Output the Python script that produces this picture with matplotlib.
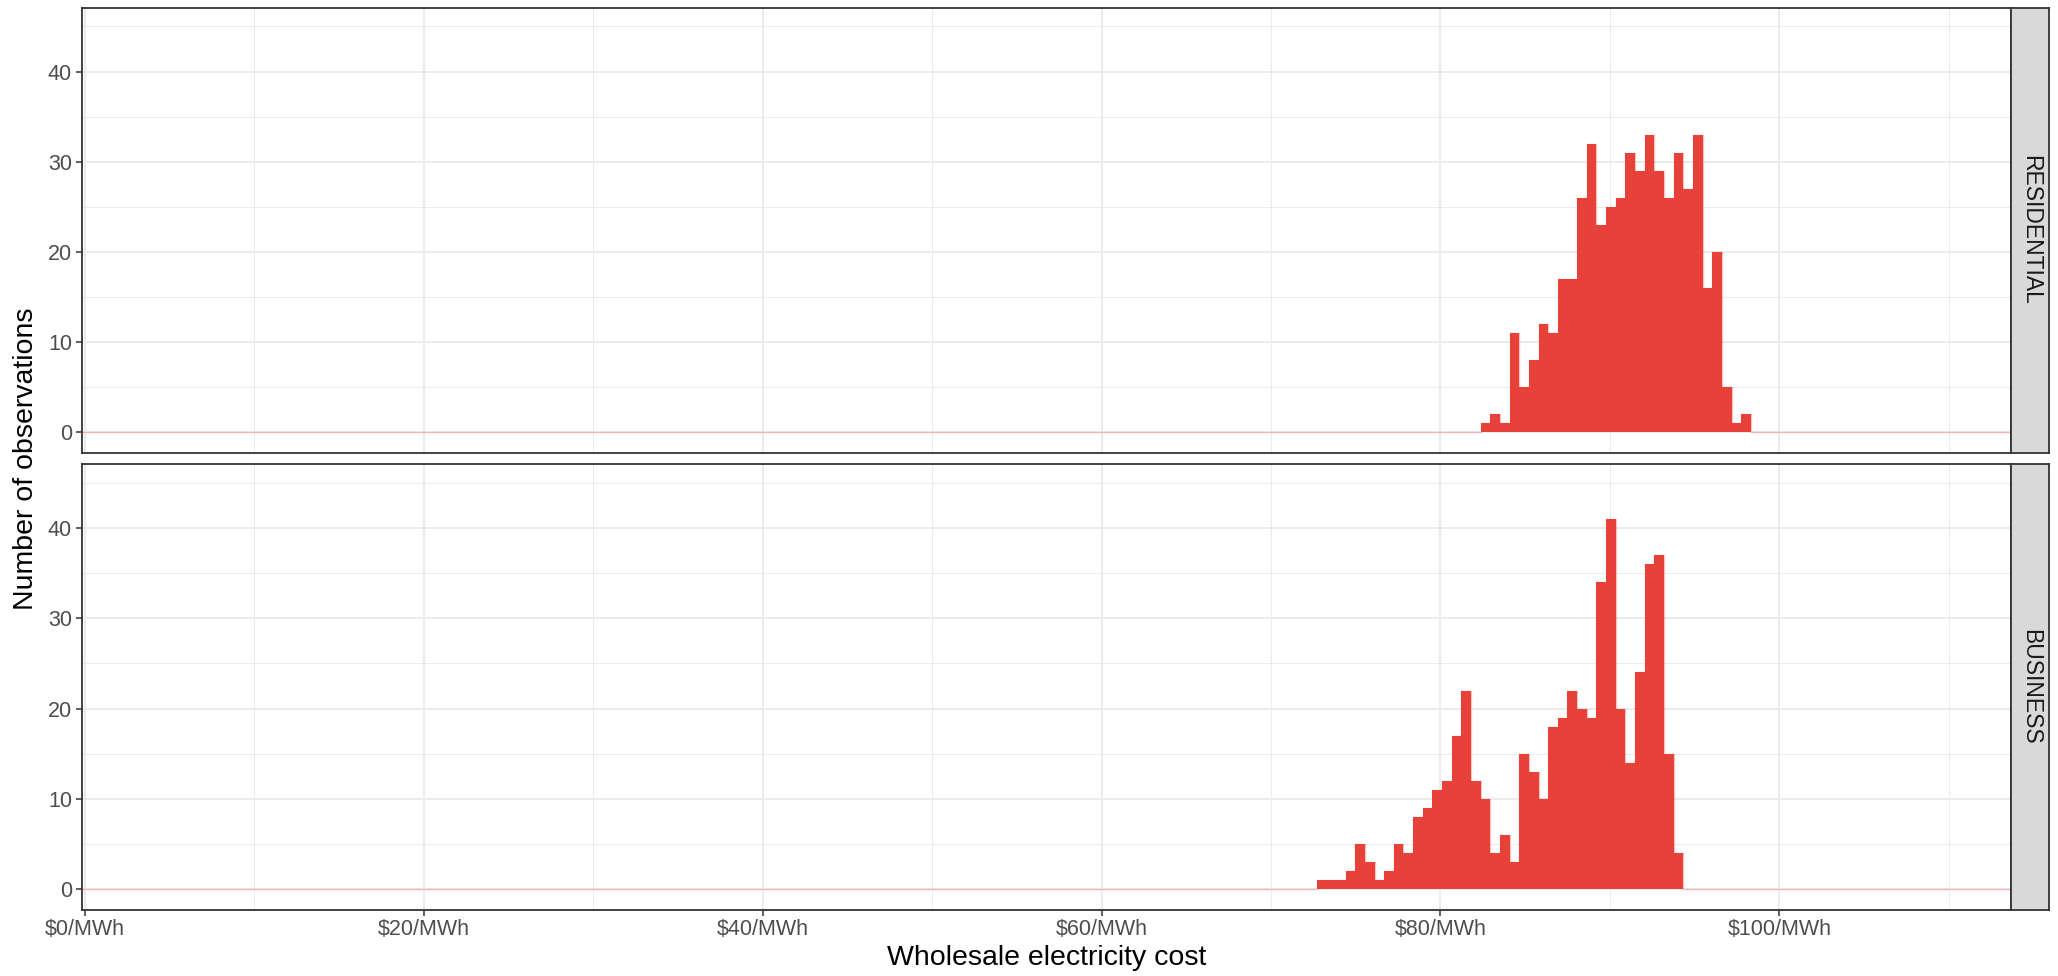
import numpy as np
import matplotlib
matplotlib.use("Agg")
import matplotlib.pyplot as plt

plt.rcParams['font.family'] = ['Liberation Sans', 'DejaVu Sans']

# histogram layout: 200 bins over the cost range
bin_lo = -0.19
bin_width = 0.5694
n_bins = 200

panels = ["RESIDENTIAL", "BUSINESS"]

# counts per bin, starting at the given bin index
residential_start = 145
residential_counts = [1, 2, 1, 11, 5, 8, 12, 11, 17, 17, 26, 32, 23, 25,
                      26, 31, 29, 33, 29, 26, 31, 27, 33, 16, 20, 5, 1, 2]
business_start = 128
business_counts = [1, 1, 1, 2, 5, 3, 1, 2, 5, 4, 8, 9, 11, 12, 17, 22, 12,
                   10, 4, 6, 3, 15, 13, 10, 18, 19, 22, 20, 19, 34, 41, 20,
                   14, 24, 36, 37, 15, 4]

x_ticks = [0, 20, 40, 60, 80, 100]
x_labels = ["$0/MWh", "$20/MWh", "$40/MWh", "$60/MWh", "$80/MWh", "$100/MWh"]
y_ticks = [0, 10, 20, 30, 40]

bar_red = "#E8413A"
grid_col = "#EBEBEB"
border_col = "#333333"

W, H = 2058, 976
fig = plt.figure(figsize=(W / 100, H / 100), dpi=100)


def fx(px):
    return px / W


def fy(py):
    return 1 - py / H


edges = bin_lo + bin_width * np.arange(n_bins + 1)
xlim = (edges[0], edges[-1])
ylim = (-2.25, 47.05)

panel_left, panel_right = 81.7, 2011.3
strip_right = 2049.3
panel_rows = [(8.0, 452.7), (464.3, 909.5)]

series = [(residential_start, residential_counts),
          (business_start, business_counts)]

for i, (name, (start, vals)) in enumerate(zip(panels, series)):
    top, bot = panel_rows[i]
    ax = fig.add_axes([fx(panel_left), fy(bot), fx(panel_right - panel_left),
                       (bot - top) / H])
    counts = np.zeros(n_bins)
    counts[start:start + len(vals)] = vals

    ax.bar(edges[:-1], counts, width=bin_width, align='edge', color=bar_red,
           linewidth=0, zorder=3)
    # faint outline, shows as the pink line along the empty bins
    ax.stairs(counts, edges, color=bar_red, alpha=0.3, linewidth=1.0,
              zorder=4)

    ax.set_xlim(*xlim)
    ax.set_ylim(*ylim)
    ax.set_xticks(x_ticks)
    ax.set_xticks([10, 30, 50, 70, 90, 110], minor=True)
    ax.set_yticks(y_ticks)
    ax.set_yticks([5, 15, 25, 35, 45], minor=True)
    ax.grid(True, which='major', color=grid_col, linewidth=1.4, zorder=0)
    ax.grid(True, which='minor', color=grid_col, linewidth=0.7, zorder=0)
    ax.set_axisbelow(True)
    ax.tick_params(which='minor', length=0)
    ax.tick_params(which='major', length=4, width=1.1, color=border_col,
                   labelsize=15.5, labelcolor="#4D4D4D", pad=3)
    for s in ax.spines.values():
        s.set_color(border_col)
        s.set_linewidth(1.3)
    if i == 0:
        ax.tick_params(axis='x', length=0, labelbottom=False)
    else:
        ax.set_xticklabels(x_labels)

    # facet strip on the right
    sax = fig.add_axes([fx(panel_right), fy(bot), fx(strip_right - panel_right),
                        (bot - top) / H])
    sax.set_facecolor("#D9D9D9")
    sax.set_xticks([])
    sax.set_yticks([])
    for s in sax.spines.values():
        s.set_color(border_col)
        s.set_linewidth(1.3)
    sax.text(0.5, 0.5, name, rotation=-90, ha='center', va='center',
             fontsize=16.5, color="#1A1A1A", transform=sax.transAxes)

fig.text(fx((panel_left + panel_right) / 2), fy(958),
         "Wholesale electricity cost", ha='center', va='center', fontsize=20.5)
fig.text(fx(26), fy((panel_rows[0][0] + panel_rows[1][1]) / 2),
         "Number of observations", rotation=90, ha='center', va='center',
         fontsize=20.5)

fig.savefig("out.png", dpi=100)
